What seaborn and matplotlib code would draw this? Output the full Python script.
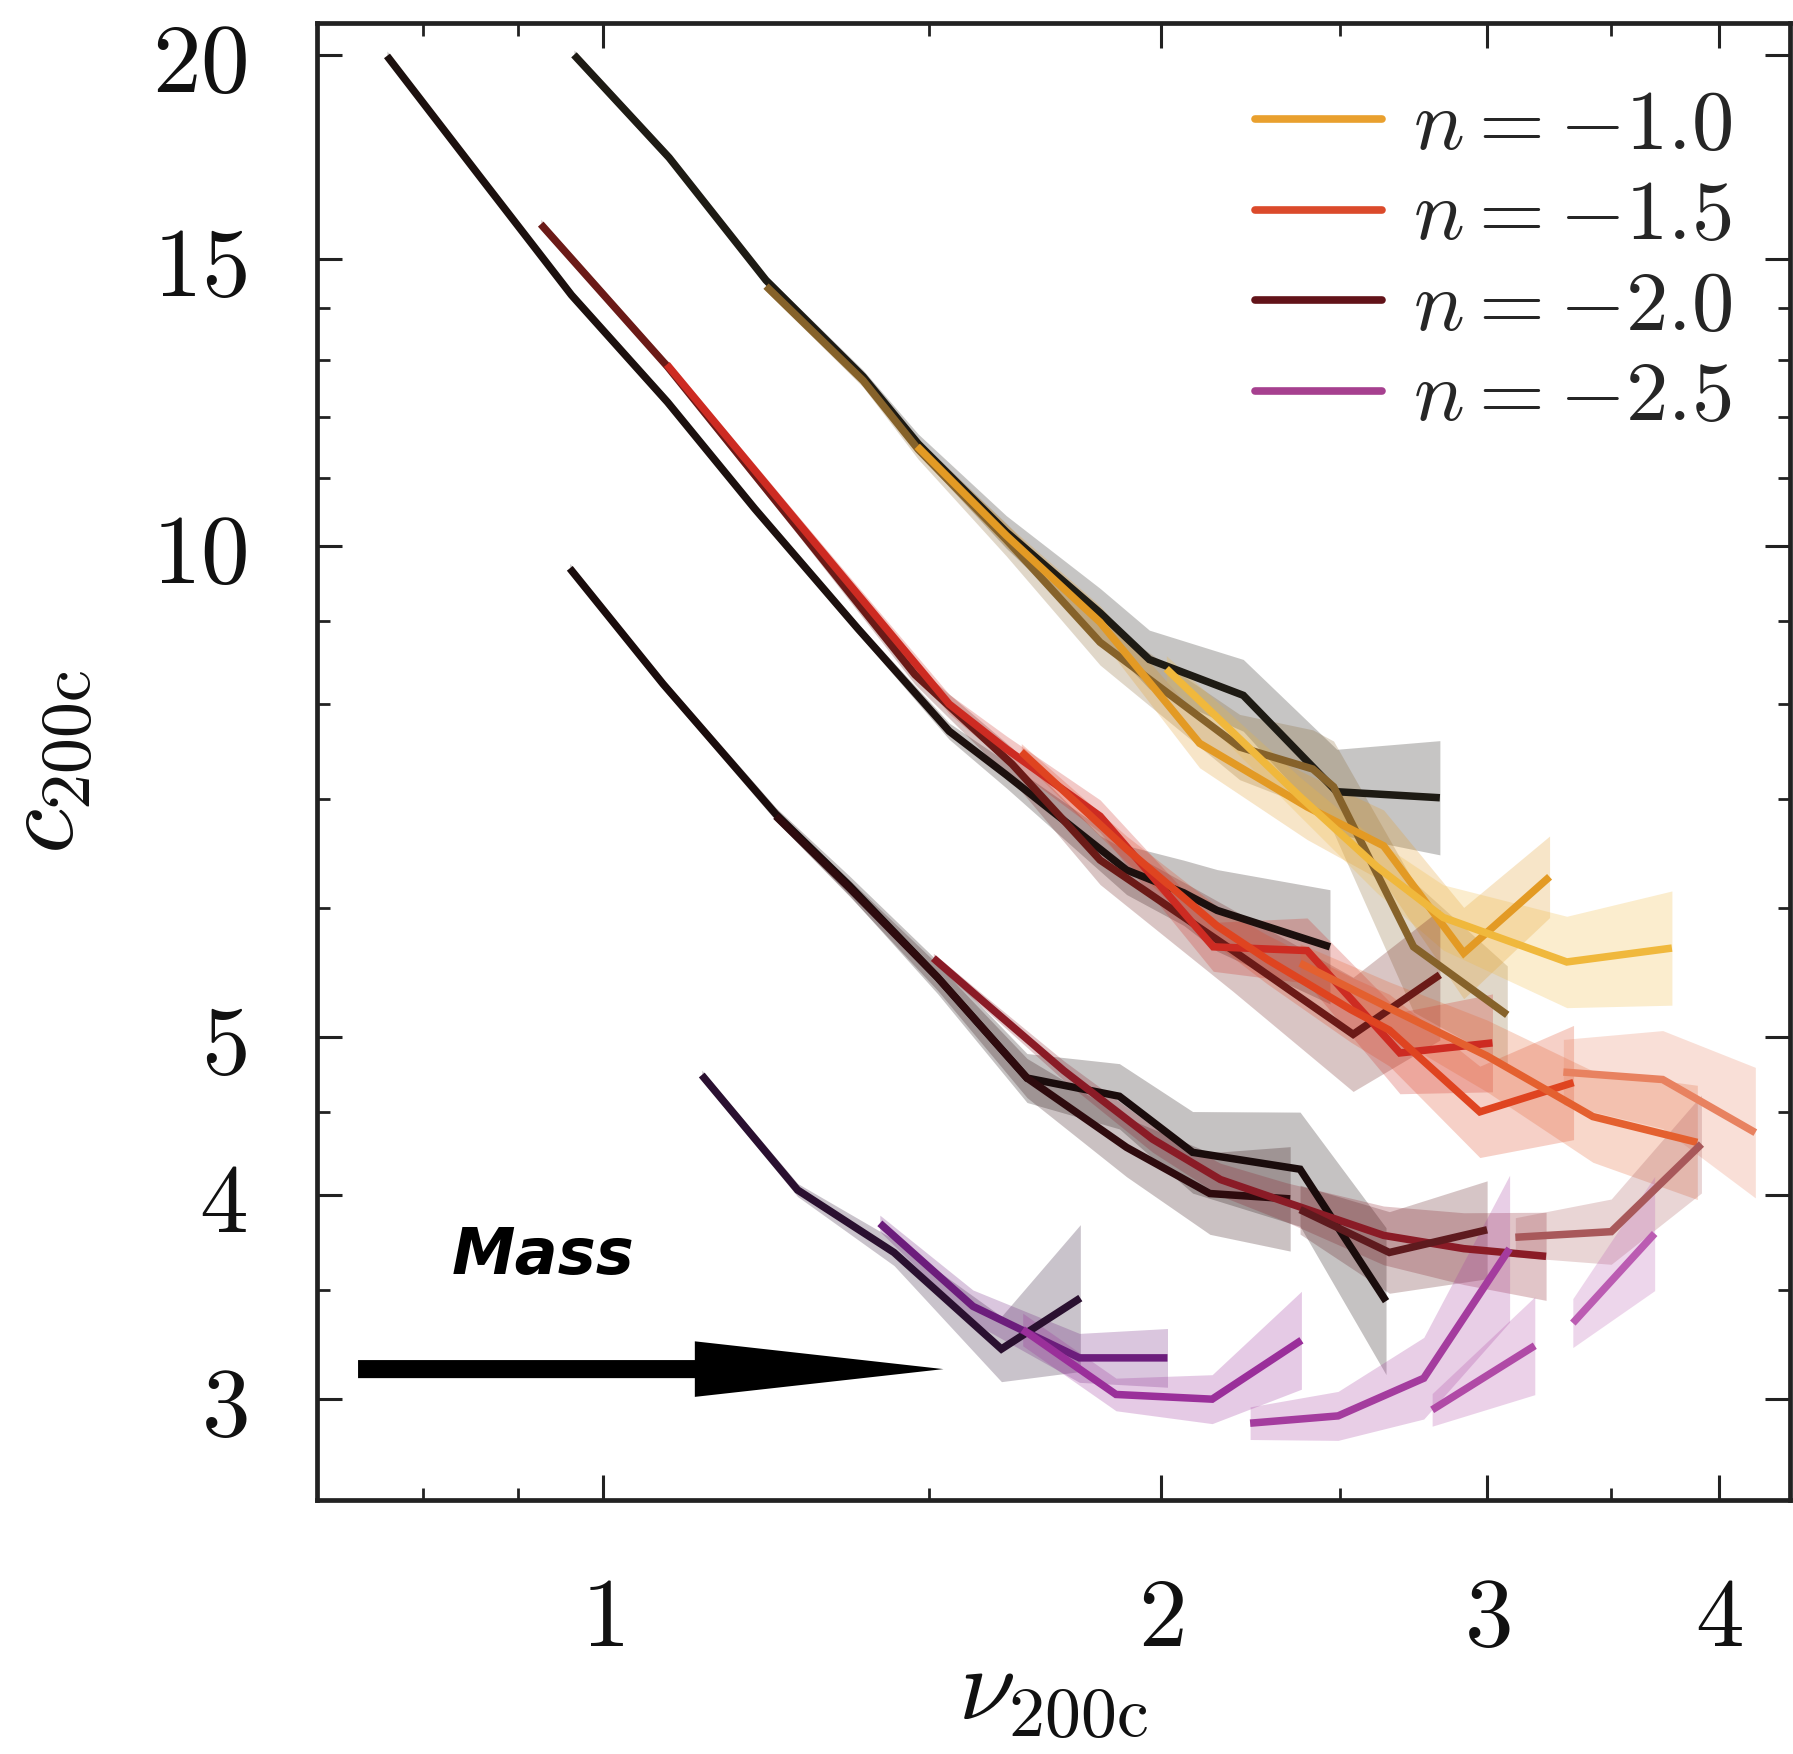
import numpy as np
import pandas as pd
import matplotlib
matplotlib.use("Agg")
import matplotlib.pyplot as plt
import seaborn as sns
from matplotlib.lines import Line2D
from matplotlib.ticker import FixedLocator, FixedFormatter, NullFormatter

# ---------------- data ----------------
# n = -1.0
NU_M10_A = [0.965, 1.086, 1.225, 1.382, 1.480, 1.651, 1.855, 1.972, 2.216, 2.489, 2.829]
C_M10_A = [20.0, 17.3, 14.55, 12.7, 11.55, 10.2, 9.10, 8.52, 8.10, 7.07, 7.01]
HW_M10_A = [0.003, 0.003, 0.003, 0.004, 0.006, 0.010, 0.015, 0.018, 0.022, 0.026, 0.035]

NU_M10_B = [1.225, 1.382, 1.480, 1.651, 1.855, 2.206, 2.416, 2.479, 2.738, 3.076]
C_M10_B = [14.43, 12.63, 11.46, 10.09, 8.73, 7.53, 7.30, 7.12, 5.68, 5.16]
HW_M10_B = [0.003, 0.004, 0.006, 0.010, 0.014, 0.020, 0.024, 0.028, 0.040, 0.030]

NU_M10_C = [1.478, 1.651, 1.855, 2.099, 2.399, 2.638, 2.914, 3.242]
C_M10_C = [11.51, 10.15, 8.98, 7.57, 6.92, 6.55, 5.63, 6.27]
HW_M10_C = [0.004, 0.007, 0.010, 0.015, 0.020, 0.022, 0.028, 0.025]

NU_M10_D = [2.014, 2.378, 2.616, 2.841, 3.312, 3.774]
C_M10_D = [8.41, 7.02, 6.36, 5.92, 5.56, 5.67]
HW_M10_D = [0.008, 0.012, 0.016, 0.020, 0.028, 0.035]

# n = -1.5
NU_M15_A = [0.765, 0.859, 0.962, 1.084, 1.208, 1.373, 1.538, 1.651, 1.917, 2.058, 2.145, 2.468]
C_M15_A = [19.97, 16.83, 14.25, 12.25, 10.54, 8.90, 7.70, 7.24, 6.33, 6.13, 5.98, 5.68]
HW_M15_A = [0.003, 0.003, 0.003, 0.003, 0.003, 0.003, 0.005, 0.008, 0.015, 0.020, 0.025, 0.035]

NU_M15_B = [0.926, 1.084, 1.279, 1.474, 1.663, 1.855, 2.188, 2.540, 2.829]
C_M15_B = [15.75, 12.88, 10.2, 8.34, 7.35, 6.42, 5.65, 5.02, 5.46]
HW_M15_B = [0.003, 0.003, 0.004, 0.006, 0.010, 0.015, 0.025, 0.035, 0.040]

NU_M15_C = [1.083, 1.279, 1.538, 1.651, 1.855, 2.135, 2.399, 2.692, 3.02]
C_M15_C = [12.92, 10.29, 8.00, 7.51, 6.83, 5.68, 5.65, 4.89, 4.96]
HW_M15_C = [0.003, 0.004, 0.006, 0.008, 0.010, 0.015, 0.020, 0.025, 0.030]

NU_M15_D = [1.682, 1.917, 2.145, 2.283, 2.532, 2.657, 2.973, 3.340]
C_M15_D = [7.48, 6.52, 5.85, 5.58, 5.20, 5.05, 4.50, 4.69]
HW_M15_D = [0.005, 0.008, 0.012, 0.015, 0.020, 0.022, 0.028, 0.035]

NU_M15_E = [2.378, 2.657, 2.999, 3.421, 3.895]
C_M15_E = [5.55, 5.21, 4.87, 4.47, 4.31]
HW_M15_E = [0.012, 0.016, 0.022, 0.028, 0.035]

NU_M15_F = [3.298, 3.731, 4.186]
C_M15_F = [4.76, 4.71, 4.37]
HW_M15_F = [0.020, 0.030, 0.040]

# n = -2.0
NU_M20_A = [0.960, 1.078, 1.240, 1.359, 1.516, 1.694, 1.900, 2.081, 2.378, 2.646]
C_M20_A = [9.69, 8.23, 6.85, 6.19, 5.44, 4.72, 4.60, 4.25, 4.15, 3.445]
HW_M20_A = [0.003, 0.003, 0.004, 0.006, 0.010, 0.015, 0.020, 0.025, 0.035, 0.045]

NU_M20_B = [1.240, 1.359, 1.516, 1.694, 1.917, 2.126, 2.349]
C_M20_B = [6.83, 6.17, 5.44, 4.72, 4.28, 4.01, 3.98]
HW_M20_B = [0.003, 0.005, 0.008, 0.012, 0.018, 0.025, 0.032]

NU_M20_C = [1.508, 1.598, 1.773, 1.980, 2.154, 2.339, 2.638, 2.914, 3.228]
C_M20_C = [5.59, 5.28, 4.77, 4.33, 4.09, 3.96, 3.78, 3.71, 3.67]
HW_M20_C = [0.003, 0.004, 0.006, 0.008, 0.010, 0.012, 0.018, 0.022, 0.027]

NU_M20_D = [2.378, 2.657, 3.0]
C_M20_D = [3.92, 3.69, 3.81]
HW_M20_D = [0.015, 0.025, 0.030]

NU_M20_E = [3.107, 3.5, 3.915]
C_M20_E = [3.77, 3.80, 4.30]
HW_M20_E = [0.012, 0.020, 0.030]

# n = -2.5
NU_M25_A = [1.131, 1.274, 1.436, 1.641, 1.810]
C_M25_A = [4.74, 4.03, 3.69, 3.22, 3.46]
HW_M25_A = [0.003, 0.004, 0.008, 0.020, 0.045]

NU_M25_B = [1.411, 1.584, 1.808, 2.017]
C_M25_B = [3.845, 3.42, 3.18, 3.18]
HW_M25_B = [0.005, 0.010, 0.015, 0.018]

NU_M25_C = [1.685, 1.892, 2.132, 2.382]
C_M25_C = [3.31, 3.02, 3.00, 3.26]
HW_M25_C = [0.010, 0.010, 0.015, 0.030]

NU_M25_D = [2.235, 2.493, 2.773, 3.085]
C_M25_D = [2.90, 2.93, 3.09, 3.71]
HW_M25_D = [0.010, 0.015, 0.025, 0.045]

NU_M25_E = [2.802, 3.183]
C_M25_E = [2.955, 3.235]
HW_M25_E = [0.010, 0.030]

NU_M25_F = [3.337, 3.694]
C_M25_F = [3.34, 3.79]
HW_M25_F = [0.015, 0.035]

LEGEND_LABELS = [r"$n = -1.0$", r"$n = -1.5$", r"$n = -2.0$", r"$n = -2.5$"]
X_TICKS = [1, 2, 3, 4]
X_MINOR = [0.8, 0.9, 1.5, 2.5, 3.5]
Y_TICKS = [3, 4, 5, 10, 15, 20]
Y_MINOR = [3.5, 4.5, 6, 7, 8, 9, 11, 12, 13, 14]

# ---------------- styles ----------------
SEGMENTS = [
    ("m10a", NU_M10_A, C_M10_A, HW_M10_A, "#1e1b14"),
    ("m10b", NU_M10_B, C_M10_B, HW_M10_B, "#86622a"),
    ("m10c", NU_M10_C, C_M10_C, HW_M10_C, "#e39a24"),
    ("m10d", NU_M10_D, C_M10_D, HW_M10_D, "#f0b83c"),
    ("m15a", NU_M15_A, C_M15_A, HW_M15_A, "#1c100e"),
    ("m15b", NU_M15_B, C_M15_B, HW_M15_B, "#6b1a17"),
    ("m15c", NU_M15_C, C_M15_C, HW_M15_C, "#cd2b22"),
    ("m15d", NU_M15_D, C_M15_D, HW_M15_D, "#df4420"),
    ("m15e", NU_M15_E, C_M15_E, HW_M15_E, "#e4602f"),
    ("m15f", NU_M15_F, C_M15_F, HW_M15_F, "#e88260"),
    ("m20a", NU_M20_A, C_M20_A, HW_M20_A, "#1a0c0c"),
    ("m20b", NU_M20_B, C_M20_B, HW_M20_B, "#2e0b0e"),
    ("m20c", NU_M20_C, C_M20_C, HW_M20_C, "#8a1b26"),
    ("m20d", NU_M20_D, C_M20_D, HW_M20_D, "#5e1a1e"),
    ("m20e", NU_M20_E, C_M20_E, HW_M20_E, "#a8585a"),
    ("m25a", NU_M25_A, C_M25_A, HW_M25_A, "#2a1030"),
    ("m25b", NU_M25_B, C_M25_B, HW_M25_B, "#6c1d7c"),
    ("m25c", NU_M25_C, C_M25_C, HW_M25_C, "#9a2f9a"),
    ("m25d", NU_M25_D, C_M25_D, HW_M25_D, "#a43c9e"),
    ("m25e", NU_M25_E, C_M25_E, HW_M25_E, "#b04aa6"),
    ("m25f", NU_M25_F, C_M25_F, HW_M25_F, "#bb5cb2"),
]
LEGEND_COLORS = ["#e9a02e", "#db4a2b", "#621319", "#a6408f"]
LINE_WIDTH = 5.4

frames = []
for name, nu, c, hw, col in SEGMENTS:
    frames.append(pd.DataFrame({"seg": name, "nu": nu, "c": c, "hw": hw}))
df = pd.concat(frames, ignore_index=True)
palette = {name: col for name, _, _, _, col in SEGMENTS}

sns.set_theme(style="ticks")
plt.rcParams["font.family"] = ["DejaVu Serif"]
plt.rcParams["mathtext.fontset"] = "cm"

fig = plt.figure(figsize=(17.93, 17.54), dpi=100)
ax = fig.add_axes([0.1766, 0.1448, 0.8217, 0.8421])
ax.set_facecolor("white")
fig.patch.set_facecolor("white")

# bands first
for name, nu, c, hw, col in SEGMENTS:
    sub = df[df.seg == name]
    lo = sub.c * 10 ** (-sub.hw)
    hi = sub.c * 10 ** (sub.hw)
    ax.fill_between(sub.nu, lo, hi, color=col, alpha=0.25, lw=0)

sns.lineplot(data=df, x="nu", y="c", hue="seg", palette=palette,
             hue_order=[s[0] for s in SEGMENTS], estimator=None, sort=False,
             legend=False, linewidth=LINE_WIDTH, ax=ax)
for ln in ax.get_lines():
    ln.set_linewidth(LINE_WIDTH)
    ln.set_solid_capstyle("butt")
    ln.set_solid_joinstyle("miter")

ax.set_xscale("log")
ax.set_yscale("log")
ax.set_xlim(0.701, 4.37)
ax.set_ylim(2.602, 20.92)

ax.xaxis.set_major_locator(FixedLocator(X_TICKS))
ax.xaxis.set_major_formatter(FixedFormatter([rf"${t}$" for t in X_TICKS]))
ax.xaxis.set_minor_locator(FixedLocator(X_MINOR))
ax.xaxis.set_minor_formatter(NullFormatter())
ax.yaxis.set_major_locator(FixedLocator(Y_TICKS))
ax.yaxis.set_major_formatter(FixedFormatter([rf"${t}$" for t in Y_TICKS]))
ax.yaxis.set_minor_locator(FixedLocator(Y_MINOR))
ax.yaxis.set_minor_formatter(NullFormatter())

ax.tick_params(which="both", direction="in", top=True, right=True, colors="#222222")
ax.tick_params(which="major", length=18, width=2.2, labelsize=70, labelcolor="#111111")
ax.tick_params(which="minor", length=9, width=2.0)
ax.tick_params(axis="x", which="major", pad=52)
ax.tick_params(axis="y", which="major", pad=50)
for sp in ax.spines.values():
    sp.set_linewidth(3.4)
    sp.set_color("#222222")

ax.set_xlabel(r"$\nu_{\rm 200c}$", fontsize=74, color="#111111")
ax.set_ylabel(r"$c_{\rm 200c}$", fontsize=74, color="#111111")
ax.xaxis.set_label_coords(0.5, -0.097)
ax.yaxis.set_label_coords(-0.15, 0.5)

handles = [Line2D([0], [0], color=col, lw=5.5) for col in LEGEND_COLORS]
ax.legend(handles, LEGEND_LABELS, loc="upper left", bbox_to_anchor=(0.637, 0.958),
          frameon=False, fontsize=61, handlelength=1.5, handletextpad=0.36,
          labelspacing=0.1, borderpad=0, borderaxespad=0)

# "Mass" annotation with arrow
ax.text(0.929, 3.67, "Mass", fontsize=46, fontweight="bold", fontstyle="italic",
        family="DejaVu Sans", ha="center", va="center", color="black")
ax.annotate("", xy=(1.527, 3.13), xytext=(0.738, 3.13),
            arrowprops=dict(arrowstyle="simple,head_length=179,head_width=40,tail_width=13",
                            mutation_scale=1, color="black", shrinkA=0, shrinkB=0, lw=0))

fig.savefig("out.png", dpi=100, facecolor="white")
